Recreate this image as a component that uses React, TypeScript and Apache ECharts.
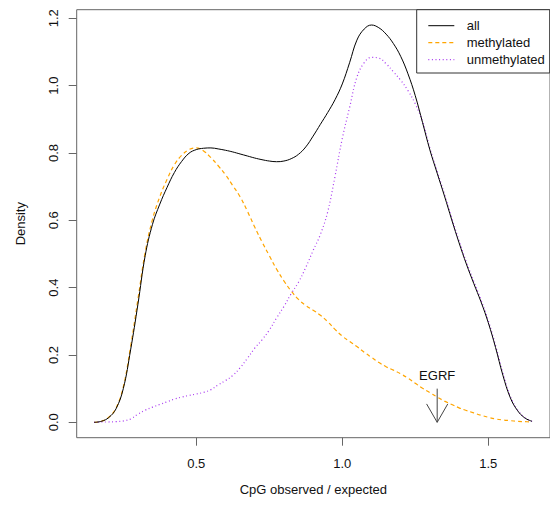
import React, { useEffect, useRef } from "react";
import * as echarts from "echarts";

const X_GRID = [
  0.15, 0.175, 0.2, 0.225, 0.25, 0.275, 0.3, 0.325, 0.35, 0.375,
  0.4, 0.425, 0.45, 0.475, 0.5, 0.525, 0.55, 0.575, 0.6, 0.625,
  0.65, 0.675, 0.7, 0.725, 0.75, 0.775, 0.8, 0.825, 0.85, 0.875,
  0.9, 0.925, 0.95, 0.975, 1.0, 1.025, 1.05, 1.075, 1.1, 1.125,
  1.15, 1.175, 1.2, 1.225, 1.25, 1.275, 1.3, 1.325, 1.35, 1.375,
  1.4, 1.425, 1.45, 1.475, 1.5, 1.525, 1.55, 1.575, 1.6, 1.625, 1.65,
];

const ALL = [
  0.0, 0.003, 0.014, 0.04, 0.1, 0.215, 0.35, 0.495, 0.588, 0.648,
  0.698, 0.742, 0.775, 0.799, 0.81, 0.814, 0.815, 0.812, 0.808, 0.803,
  0.797, 0.791, 0.785, 0.78, 0.776, 0.774, 0.776, 0.783, 0.796, 0.818,
  0.85, 0.885, 0.92, 0.958, 1.005, 1.068, 1.135, 1.168, 1.18, 1.172,
  1.153, 1.125, 1.087, 1.035, 0.97, 0.89, 0.809, 0.74, 0.672, 0.601,
  0.533, 0.47, 0.413, 0.358, 0.296, 0.222, 0.14, 0.074, 0.035, 0.013, 0.003,
];

const METHYLATED = [
  0.0, 0.003, 0.015, 0.042, 0.105, 0.225, 0.365, 0.505, 0.603, 0.67,
  0.722, 0.765, 0.793, 0.81, 0.815, 0.806, 0.786, 0.762, 0.735, 0.703,
  0.67, 0.627, 0.58, 0.536, 0.495, 0.455, 0.42, 0.39, 0.365, 0.347,
  0.333, 0.318, 0.299, 0.276, 0.256, 0.24, 0.225, 0.208, 0.193, 0.178,
  0.165, 0.155, 0.144, 0.131, 0.116, 0.101, 0.088, 0.075, 0.063, 0.053,
  0.043, 0.035, 0.028, 0.021, 0.015, 0.01, 0.007, 0.005, 0.003, 0.002, 0.001,
];

const UNMETHYLATED = [
  0.0, 0.001, 0.001, 0.002, 0.004, 0.01, 0.024, 0.036, 0.045, 0.053,
  0.061, 0.069, 0.075, 0.08, 0.084, 0.089, 0.097, 0.111, 0.124, 0.139,
  0.162, 0.19, 0.22, 0.245, 0.274, 0.31, 0.344, 0.382, 0.416, 0.46,
  0.51, 0.558, 0.625, 0.73, 0.843, 0.935, 1.025, 1.068, 1.084, 1.082,
  1.065, 1.041, 1.016, 0.985, 0.946, 0.893, 0.814, 0.745, 0.678, 0.607,
  0.539, 0.476, 0.419, 0.364, 0.302, 0.228, 0.146, 0.078, 0.037, 0.014, 0.003,
];

const SERIES_NAMES = ["all", "methylated", "unmethylated"];
const SERIES_COLORS = ["#000000", "#FFA500", "#A838F0"];
const SERIES_DASH: any[] = ["solid", [4, 3], [1, 2.6]];
const X_TICKS = [0.5, 1.0, 1.5];
const Y_TICKS = [0.0, 0.2, 0.4, 0.6, 0.8, 1.0, 1.2];
const EGRF_LABEL = "EGRF";
const EGRF_X = 1.325;
const EGRF_ARROW = [0.1, 0.0];
const EGRF_TEXT_Y = 0.14;

const FONT = "'Liberation Sans', Arial, Helvetica, sans-serif";
const FS = 13;

export default function App() {
  const ref = useRef<HTMLDivElement>(null);

  useEffect(() => {
    if (!ref.current) return;
    const chart = echarts.init(ref.current, null, { renderer: "svg" });
    const pairs = (ys: number[]) => X_GRID.map((x, i) => [x, ys[i]]);
    const seriesData = [ALL, METHYLATED, UNMETHYLATED];

    // legend drawn like R's legend(): box, line samples and labels
    const legendLeft = 416.7;
    const legendTop = 9.7;
    const legendW = 133;
    const legendH = 63.3;
    const legendChildren: any[] = [
      {
        type: "rect",
        shape: { x: legendLeft, y: legendTop, width: legendW, height: legendH },
        style: { fill: "#fff", stroke: "#333", lineWidth: 1 },
      },
    ];
    SERIES_NAMES.forEach((name, i) => {
      const cy = 25.7 + i * 17;
      legendChildren.push({
        type: "line",
        shape: { x1: 428.3, y1: cy, x2: 454.3, y2: cy },
        style: {
          stroke: SERIES_COLORS[i],
          lineWidth: i === 0 ? 1 : 1.2,
          lineDash: SERIES_DASH[i] === "solid" ? null : SERIES_DASH[i],
        },
      });
      legendChildren.push({
        type: "text",
        x: 466.7,
        y: cy,
        style: {
          text: name,
          fontFamily: FONT,
          fontSize: FS,
          fill: "#111",
          verticalAlign: "middle",
          align: "left",
        },
      });
    });

    const option: any = {
      animation: false,
      backgroundColor: "#ffffff",
      textStyle: { fontFamily: FONT, color: "#111" },
      grid: {
        left: 76.7,
        top: 9.7,
        right: -0.5,
        bottom: 68.3,
        show: true,
        borderColor: "#666",
        borderWidth: 1,
        backgroundColor: "transparent",
      },
      graphic: [{ type: "group", z: 100, children: legendChildren }],
      xAxis: {
        type: "value",
        min: 0.0904,
        max: 1.7114,
        name: "CpG observed / expected",
        nameLocation: "middle",
        nameGap: 45,
        nameTextStyle: { fontFamily: FONT, fontSize: FS, color: "#111" },
        axisLine: { show: false, onZero: false },
        splitLine: { show: false },
        axisTick: {
          show: true,
          inside: false,
          customValues: X_TICKS,
          length: 8,
          lineStyle: { color: "#666" },
        },
        axisLabel: {
          customValues: X_TICKS,
          margin: 19,
          fontFamily: FONT,
          fontSize: FS,
          color: "#111",
          formatter: (v: number) => v.toFixed(1),
        },
      },
      yAxis: {
        type: "value",
        min: -0.0457,
        max: 1.2255,
        name: "Density",
        nameLocation: "middle",
        nameGap: 50,
        nameRotate: 90,
        nameTextStyle: { fontFamily: FONT, fontSize: FS, color: "#111" },
        axisLine: { show: false, onZero: false },
        splitLine: { show: false },
        axisTick: {
          show: true,
          inside: false,
          customValues: Y_TICKS,
          length: 8,
          lineStyle: { color: "#666" },
        },
        axisLabel: {
          customValues: Y_TICKS,
          rotate: 90,
          margin: 17,
          fontFamily: FONT,
          fontSize: FS,
          color: "#111",
          formatter: (v: number) => v.toFixed(1),
        },
      },
      series: [
        ...SERIES_NAMES.map((name, i) => ({
          name,
          type: "line",
          data: pairs(seriesData[i]),
          smooth: 0.4,
          symbol: "none",
          lineStyle: {
            color: SERIES_COLORS[i],
            width: i === 0 ? 1 : 1.2,
            type: SERIES_DASH[i],
          },
          itemStyle: { color: SERIES_COLORS[i] },
          z: i === 0 ? 3 : 2,
        })),
        {
          name: "egrf",
          type: "custom",
          data: [[EGRF_X, EGRF_ARROW[0], EGRF_ARROW[1], EGRF_TEXT_Y]],
          silent: true,
          z: 4,
          renderItem: (params: any, api: any) => {
            const x = api.value(0);
            const p0 = api.coord([x, api.value(1)]);
            const p1 = api.coord([x, api.value(2)]);
            const pt = api.coord([x, api.value(3)]);
            const stroke = "#444";
            return {
              type: "group",
              children: [
                {
                  type: "line",
                  shape: { x1: p0[0], y1: p0[1], x2: p1[0], y2: p1[1] },
                  style: { stroke, lineWidth: 1 },
                },
                {
                  type: "polyline",
                  shape: {
                    points: [
                      [p1[0] - 10.6, p1[1] - 18.4],
                      [p1[0], p1[1]],
                      [p1[0] + 10.6, p1[1] - 18.4],
                    ],
                  },
                  style: { stroke, lineWidth: 1, fill: "none" },
                },
                {
                  type: "text",
                  x: pt[0],
                  y: pt[1],
                  style: {
                    text: EGRF_LABEL,
                    align: "center",
                    verticalAlign: "middle",
                    fontFamily: FONT,
                    fontSize: FS,
                    fill: "#111",
                  },
                },
              ],
            };
          },
        },
      ],
    };

    chart.setOption(option);
    return () => chart.dispose();
  }, []);

  return (
    <div
      ref={ref}
      style={{ position: "fixed", left: 0, top: 0, width: 550, height: 506, background: "#fff" }}
    />
  );
}
